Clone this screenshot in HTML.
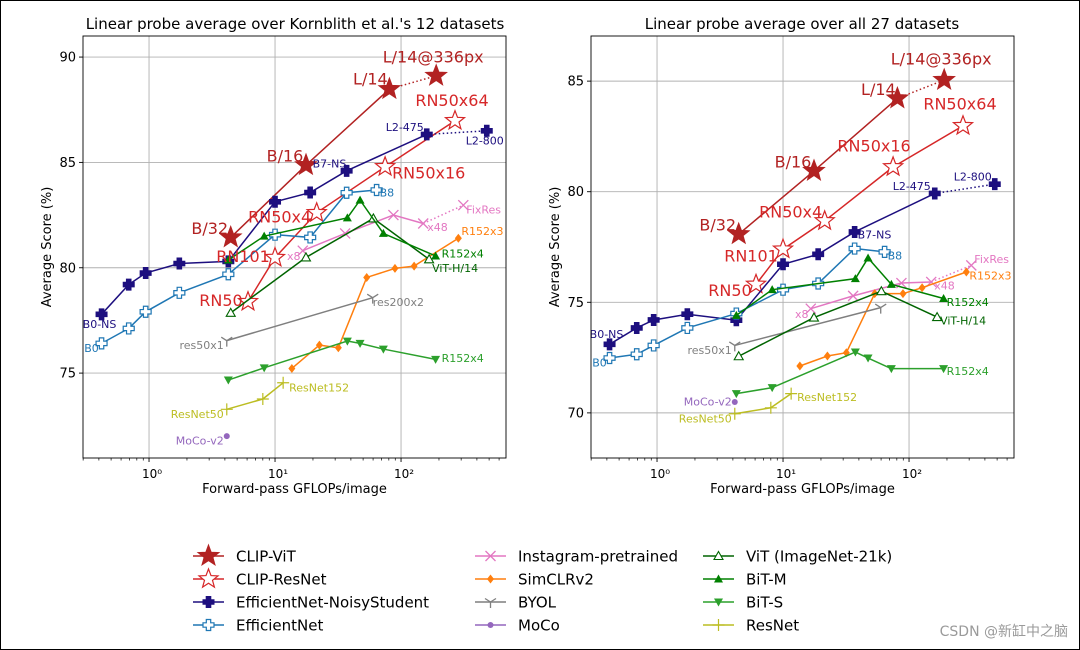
<!DOCTYPE html>
<html><head><meta charset="utf-8"><style>
html,body{margin:0;padding:0;background:#fff;}
#wrap{position:relative;width:1078px;height:648px;border:1px solid #000;overflow:hidden;}
svg{position:absolute;left:-1px;top:-1px;}
text{font-family:"DejaVu Sans","Liberation Sans",sans-serif;}
</style></head><body>
<div id="wrap">
<svg id="fig" width="1080" height="650" xmlns="http://www.w3.org/2000/svg"></svg>
</div>
<script>
// ---- data (x = GFLOPs, yL = Kornblith 12 datasets, yR = all 27 datasets) ----
const vitX=[4.45,17.6,80.8,190];
const vitYL=[81.44,84.87,88.48,89.11];
const vitYR=[78.08,80.94,84.22,85.05];
const rnX=[6.1,10,21.4,74.7,268];
const rnYL=[78.39,80.48,82.61,84.79,86.98];
const rnYR=[75.81,77.4,78.68,81.12,82.98];
const nsX=[0.42,0.69,0.94,1.74,4.26,10,19,37,160,479];
const nsYL=[77.79,79.2,79.75,80.2,80.3,83.13,83.57,84.6,86.33,86.5];
const nsYR=[73.1,73.84,74.2,74.46,74.19,76.72,77.17,78.18,79.92,80.34];
const effX=[0.42,0.69,0.94,1.74,4.26,10,19,37,64];
const effYL=[76.41,77.12,77.91,78.81,79.69,81.57,81.44,83.56,83.69];
const effYR=[72.48,72.65,73.05,73.84,74.49,75.57,75.85,77.43,77.28];
const igX=[16.6,36,87,150,312];
const igYL=[80.81,81.63,82.5,82.1,82.97];
const igYR=[74.71,75.29,75.87,75.92,76.67];
const simX=[13.6,22.5,31.8,53.4,89.5,127,285];
const simYL=[75.22,76.33,76.2,79.54,79.97,80.08,81.4];
const simYR=[72.12,72.57,72.72,75.39,75.39,75.66,76.37];
const byolX=[4.14,59.6];
const byolYL=[76.54,78.58];
const byolYR=[73.05,74.76];
const mocoX=[4.14];
const mocoYL=[72.01];
const mocoYR=[70.49];
const vit21X=[4.45,17.6,60.3,167];
const vit21YL=[77.86,80.49,82.34,80.4];
const vit21YR=[72.56,74.31,75.5,74.33];
const bitX=[4.26,8.2,37.5,47.3,72.4,188];
const bitmYL=[80.37,81.5,82.37,83.21,81.63,80.56];
const bitmYR=[74.41,75.57,76.07,77.0,75.81,75.17];
const bitsYL=[74.67,75.25,76.52,76.41,76.14,75.65];
const bitsYR=[70.87,71.14,72.75,72.48,72.0,72.0];
const resX=[4.14,8.0,11.6];
const resYL=[73.28,73.77,74.54];
const resYR=[69.96,70.23,70.87];
const xTickLabels=["10\u2070","10\u00b9","10\u00b2"];
const yTicksL=[75,80,85,90];
const yTicksR=[70,75,80,85];

const NS='http://www.w3.org/2000/svg';
const svg=document.getElementById('fig');
function el(tag,attrs,parent){const e=document.createElementNS(NS,tag);for(const k in attrs)e.setAttribute(k,attrs[k]);(parent||svg).appendChild(e);return e;}

const series=[
 {key:'clip-vit',name:'CLIP-ViT',c:'#b22222',m:'starF',x:vitX,yL:vitYL,yR:vitYR,dot:true,lw:1.5},
 {key:'clip-resnet',name:'CLIP-ResNet',c:'#d62728',m:'starO',x:rnX,yL:rnYL,yR:rnYR,lw:1.5},
 {key:'efficientnet-ns',name:'EfficientNet-NoisyStudent',c:'#1d0f7f',m:'plusF',x:nsX,yL:nsYL,yR:nsYR,dot:true,lw:1.5},
 {key:'efficientnet',name:'EfficientNet',c:'#1f77b4',m:'plusO',x:effX,yL:effYL,yR:effYR,lw:1.5},
 {key:'instagram',name:'Instagram-pretrained',c:'#e377c2',m:'x',x:igX,yL:igYL,yR:igYR,dot:true,lw:1.5},
 {key:'simclr',name:'SimCLRv2',c:'#ff7f0e',m:'diamond',x:simX,yL:simYL,yR:simYR,lw:1.5},
 {key:'byol',name:'BYOL',c:'#7f7f7f',m:'tri',x:byolX,yL:byolYL,yR:byolYR,lw:1.5},
 {key:'moco',name:'MoCo',c:'#9467bd',m:'circle',x:mocoX,yL:mocoYL,yR:mocoYR,lw:1.5},
 {key:'vit-21k',name:'ViT (ImageNet-21k)',c:'#006400',m:'triUpO',x:vit21X,yL:vit21YL,yR:vit21YR,lw:1.5},
 {key:'bit-m',name:'BiT-M',c:'#008000',m:'triUp',x:bitX,yL:bitmYL,yR:bitmYR,lw:1.5},
 {key:'bit-s',name:'BiT-S',c:'#2ca02c',m:'triDown',x:bitX,yL:bitsYL,yR:bitsYR,lw:1.5},
 {key:'resnet',name:'ResNet',c:'#bcbd22',m:'vplus',x:resX,yL:resYL,yR:resYR,lw:1.5}
];

function starPts(cx,cy,R){const r=R*0.42;let p=[];for(let i=0;i<10;i++){const a=-Math.PI/2+i*Math.PI/5;const rr=i%2?r:R;p.push((cx+rr*Math.cos(a)).toFixed(1)+','+(cy+rr*Math.sin(a)).toFixed(1));}return p.join(' ');}
function marker(g,m,cx,cy,c){
 switch(m){
 case 'starF':return el('polygon',{points:starPts(cx,cy,11),fill:c,stroke:c,'stroke-width':1},g);
 case 'starO':return el('polygon',{points:starPts(cx,cy,10),fill:'#fff',stroke:c,'stroke-width':1.2},g);
 case 'plusF':{const s=5.5,w=2.3;return el('path',{d:`M${cx-w},${cy-s}h${2*w}v${s-w}h${s-w}v${2*w}h${-(s-w)}v${s-w}h${-2*w}v${-(s-w)}h${-(s-w)}v${-2*w}h${s-w}z`,fill:c,stroke:c,'stroke-width':1},g);}
 case 'plusO':{const s=5.5,w=2.2;return el('path',{d:`M${cx-w},${cy-s}h${2*w}v${s-w}h${s-w}v${2*w}h${-(s-w)}v${s-w}h${-2*w}v${-(s-w)}h${-(s-w)}v${-2*w}h${s-w}z`,fill:'#fff',stroke:c,'stroke-width':1.2},g);}
 case 'x':return el('path',{d:`M${cx-5},${cy-5}L${cx+5},${cy+5}M${cx-5},${cy+5}L${cx+5},${cy-5}`,stroke:c,'stroke-width':1.3},g);
 case 'diamond':return el('polygon',{points:`${cx},${cy-4.5} ${cx+3.5},${cy} ${cx},${cy+4.5} ${cx-3.5},${cy}`,fill:c},g);
 case 'tri':return el('path',{d:`M${cx},${cy}V${cy+6}M${cx},${cy}L${cx-5.5},${cy-3.5}M${cx},${cy}L${cx+5.5},${cy-3.5}`,stroke:c,'stroke-width':1.3,fill:'none'},g);
 case 'circle':return el('circle',{cx:cx,cy:cy,r:3,fill:c},g);
 case 'triUpO':return el('polygon',{points:`${cx},${cy-4.5} ${cx+4.5},${cy+3.5} ${cx-4.5},${cy+3.5}`,fill:'#fff',stroke:c,'stroke-width':1.1},g);
 case 'triUp':return el('polygon',{points:`${cx},${cy-4.5} ${cx+4.5},${cy+3.5} ${cx-4.5},${cy+3.5}`,fill:c},g);
 case 'triDown':return el('polygon',{points:`${cx},${cy+4.5} ${cx+4.5},${cy-3.5} ${cx-4.5},${cy-3.5}`,fill:c},g);
 case 'vplus':return el('path',{d:`M${cx-6},${cy}H${cx+6}M${cx},${cy-6}V${cy+6}`,stroke:c,'stroke-width':1.2},g);
 }
}

// label definitions: [series key, point index, text, dx, dy, anchor, size]
const labelsL=[
 ['clip-vit',3,'L/14@336px',-3,-19,'middle',16],['clip-vit',2,'L/14',-19,-10,'middle',16],
 ['clip-vit',1,'B/16',-21,-9,'middle',16],['clip-vit',0,'B/32',-21,-9,'middle',16],
 ['clip-resnet',4,'RN50x64',-3,-20,'middle',16],['clip-resnet',3,'RN50x16',7,6,'start',16],
 ['clip-resnet',2,'RN50x4',-37,4,'middle',16],['clip-resnet',1,'RN101',-32,-1,'middle',16],
 ['clip-resnet',0,'RN50',-27,-1,'middle',16],
 ['efficientnet-ns',0,'B0-NS',-2,10,'middle',11],['efficientnet-ns',7,'B7-NS',-34,-7,'start',11],
 ['efficientnet-ns',8,'L2-475',-22,-7,'middle',11],['efficientnet-ns',9,'L2-800',-2,10,'middle',11],
 ['efficientnet',0,'B0',-10,5,'middle',11],['efficientnet',8,'B8',3,3,'start',11],
 ['instagram',0,'x8',-9,6,'middle',11],['instagram',3,'x48',4,4,'start',11],['instagram',4,'FixRes',3,5,'start',11],
 ['simclr',6,'R152x3',3,-7,'start',11],
 ['byol',0,'res50x1',-3,5,'end',11],['byol',1,'res200x2',0,5,'start',11],
 ['moco',0,'MoCo-v2',-3,5,'end',11],
 ['vit-21k',3,'ViT-H/14',3,9,'start',11],
 ['bit-m',5,'R152x4',6,-2,'start',11],['bit-s',5,'R152x4',6,-1,'start',11],
 ['resnet',0,'ResNet50',-3,5,'end',11],['resnet',2,'ResNet152',6,5,'start',11]
];
const labelsR=[
 ['clip-vit',3,'L/14@336px',-3,-21,'middle',16],['clip-vit',2,'L/14',-19,-9,'middle',16],
 ['clip-vit',1,'B/16',-21,-9,'middle',16],['clip-vit',0,'B/32',-21,-9,'middle',16],
 ['clip-resnet',4,'RN50x64',-3,-22,'middle',16],['clip-resnet',3,'RN50x16',-19,-21,'middle',16],
 ['clip-resnet',2,'RN50x4',-34,-9,'middle',16],['clip-resnet',1,'RN101',-32,7,'middle',16],
 ['clip-resnet',0,'RN50',-26,6,'middle',16],
 ['efficientnet-ns',0,'B0-NS',-3,-10,'middle',11],['efficientnet-ns',7,'B7-NS',3,3,'start',11],
 ['efficientnet-ns',8,'L2-475',-23,-7,'middle',11],['efficientnet-ns',9,'L2-800',-22,-7,'middle',11],
 ['efficientnet',0,'B0',-10,5,'middle',11],['efficientnet',8,'B8',3,4,'start',11],
 ['instagram',0,'x8',-9,6,'middle',11],['instagram',3,'x48',3,4,'start',11],['instagram',4,'FixRes',3,-6,'start',11],
 ['simclr',6,'R152x3',3,4,'start',11],
 ['byol',0,'res50x1',-3,5,'end',11],
 ['moco',0,'MoCo-v2',-3,0,'end',11],
 ['vit-21k',3,'ViT-H/14',3,4,'start',11],
 ['bit-m',5,'R152x4',3,4,'start',11],['bit-s',5,'R152x4',3,3,'start',11],
 ['resnet',0,'ResNet50',-3,5,'end',11],['resnet',2,'ResNet152',6,4,'start',11]
];

const panels=[
 {id:'left',x0:83,x1:506,y0:36,y1:458,lx:[-0.524,2.833],ly:[70.97,91.0],yk:'yL',ticks:yTicksL,labels:labelsL,
  title:"Linear probe average over Kornblith et al.'s 12 datasets",tx:295},
 {id:'right',x0:591,x1:1014,y0:36,y1:458,lx:[-0.524,2.833],ly:[67.96,87.04],yk:'yR',ticks:yTicksR,labels:labelsR,
  title:"Linear probe average over all 27 datasets",tx:802}
];

panels.forEach(P=>{
 const sx=v=>P.x0+(Math.log10(v)-P.lx[0])/(P.lx[1]-P.lx[0])*(P.x1-P.x0);
 const sy=v=>P.y1-(v-P.ly[0])/(P.ly[1]-P.ly[0])*(P.y1-P.y0);
 const g=el('g',{});
 
 
 // grid
 const grid=el('g',{},g);
 
 
 [1,10,100].forEach((d,i)=>{
  const x=sx(d);
  el('line',{x1:x,x2:x,y1:P.y0,y2:P.y1,stroke:'#b0b0b0','stroke-width':0.9},grid);
  const t=el('text',{x:x+3,y:P.y1+20,'font-size':12,'text-anchor':'middle',fill:'#000'},g);
  t.textContent=xTickLabels[i];
  
  
  el('line',{x1:x,x2:x,y1:P.y1,y2:P.y1+4,stroke:'#000','stroke-width':0.9},g);
 });
 for(let e=-1;e<3;e++)for(let k=2;k<10;k++){const v=k*Math.pow(10,e);if(Math.log10(v)<P.lx[0]||Math.log10(v)>P.lx[1])continue;const x=sx(v);el('line',{x1:x,x2:x,y1:P.y1,y2:P.y1+2.5,stroke:'#000','stroke-width':0.7},g);}
 P.ticks.forEach(v=>{
  const y=sy(v);
  el('line',{x1:P.x0,x2:P.x1,y1:y,y2:y,stroke:'#b0b0b0','stroke-width':0.9},grid);
  el('line',{x1:P.x0-4,x2:P.x0,y1:y,y2:y,stroke:'#000','stroke-width':0.9},g);
  const t=el('text',{x:P.x0-7,y:y+4.5,'font-size':13,'text-anchor':'end',fill:'#000'},g);
  t.textContent=v;
  
  
 });
 // series
 const byKey={};
 series.forEach(S=>{
  byKey[S.key]=S;
  const sg=el('g',{},g);
  
  
  const ys=S[P.yk];
  const pts=S.x.map((x,i)=>[sx(x),sy(ys[i])]);
  const n=pts.length;
  const solid=S.dot?pts.slice(0,n-1):pts;
  if(solid.length>1)el('polyline',{points:solid.map(p=>p.join(',')).join(' '),fill:'none',stroke:S.c,'stroke-width':S.lw},sg);
  if(S.dot)el('line',{x1:pts[n-2][0],y1:pts[n-2][1],x2:pts[n-1][0],y2:pts[n-1][1],stroke:S.c,'stroke-width':1.5,'stroke-dasharray':'1.5,2.5'},sg);
  pts.forEach(p=>{const mk=marker(sg,S.m,p[0],p[1],S.c);
   
   });
 });
 // labels
 P.labels.forEach(L=>{
  const S=byKey[L[0]];
  const x=sx(S.x[L[1]])+L[3], y=sy(S[P.yk][L[1]])+L[4];
  const t=el('text',{x:x,y:y,'font-size':L[6],'text-anchor':L[5],'dominant-baseline':'central',fill:S.c},g);
  t.textContent=L[2];
  
  
 });
 el('rect',{x:P.x0,y:P.y0,width:P.x1-P.x0,height:P.y1-P.y0,fill:'none',stroke:'#000','stroke-width':0.9},g);
 const tt=el('text',{x:P.tx,y:29,'font-size':15,'text-anchor':'middle',fill:'#000'},g);
 tt.textContent=P.title;
 
 
 const xl=el('text',{x:(P.x0+P.x1)/2,y:493,'font-size':13,'text-anchor':'middle',fill:'#000'},g);
 xl.textContent='Forward-pass GFLOPs/image';
 
 
 const yx=P.x0-32, yy=(P.y0+P.y1)/2;
 const yl=el('text',{x:yx,y:yy,'font-size':13,'text-anchor':'middle',fill:'#000',transform:`rotate(-90 ${yx} ${yy})`},g);
 yl.textContent='Average Score (%)';
 
 
});

// legend
const lg=el('g',{});


const cols=[193,475,703], rows=[556,579,602,625];
series.forEach((S,i)=>{
 const cx=cols[Math.floor(i/4)], cy=rows[i%4];
 const eg=el('g',{},lg);
 
 
 if(S.key!=='moco'||true)el('line',{x1:cx,x2:cx+31,y1:cy,y2:cy,stroke:S.c,'stroke-width':1.5},eg);
 marker(eg,S.m,cx+15.5,cy,S.c);
 const t=el('text',{x:cx+43,y:cy+5.5,'font-size':15,fill:'#000'},eg);
 t.textContent=S.name;
});
const wm=el('text',{x:1068,y:636,'font-size':14,'text-anchor':'end',fill:'#9a9a9a'});
wm.setAttribute('font-family','"Liberation Sans","Noto Sans CJK SC",sans-serif');
wm.textContent='CSDN @新缸中之脑';


</script>
</body></html>
